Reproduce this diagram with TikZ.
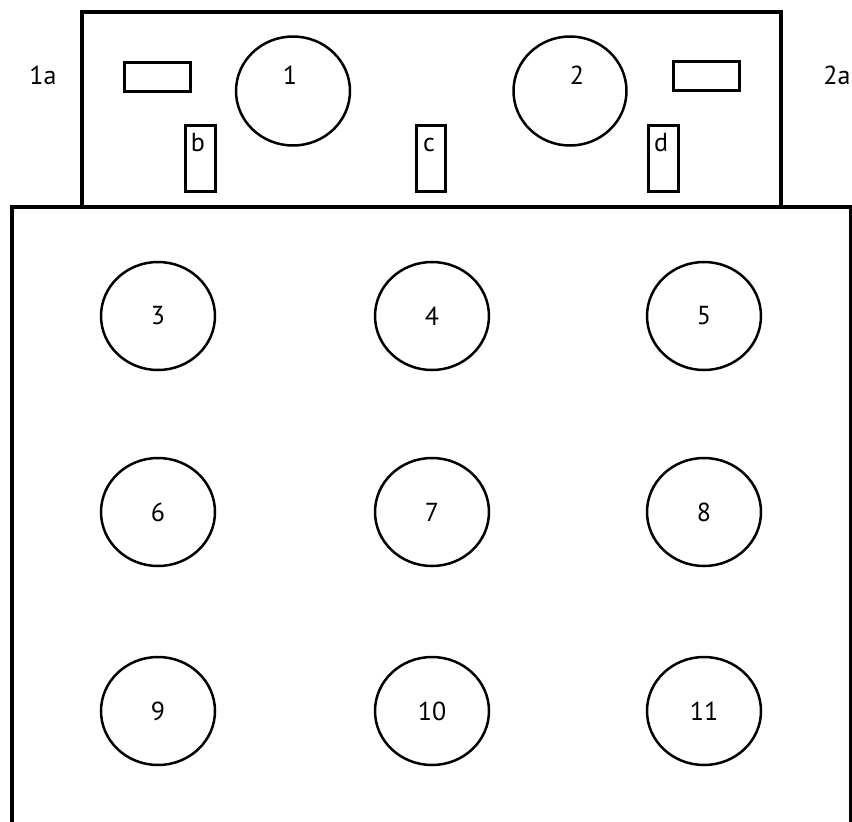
\documentclass[tikz,border=0pt]{standalone}
\usepackage{fontspec}
\setmainfont{PT Sans}
\usetikzlibrary{shapes.geometric}
\begin{document}
\begin{tikzpicture}[x=1pt,y=-1pt,
  wall/.style={line width=4pt},
  well/.style={draw,ellipse,line width=2.5pt,inner sep=0pt,minimum width=114pt,minimum height=108pt,font=\fontsize{26}{28}\selectfont},
  slot/.style={draw,rectangle,line width=3pt,inner sep=0pt},
  lbl/.style={inner sep=0pt,font=\fontsize{26}{28}\selectfont}]
\useasboundingbox (0,0) rectangle (852,822);
\clip (0,0) rectangle (852,822);
% top box
\draw[wall] (82,207) -- (82,12) -- (781,12) -- (781,207);
% main box
\draw[wall] (12,830) -- (12,207) -- (851,207) -- (851,830);
% top elements
\node[well,minimum height=109pt] (c1) at (293,91) {};
\node[well,minimum width=113pt,minimum height=109pt] (c2) at (570,91) {};
\node[lbl] (t1) at (290,75) {1};
\node[lbl] (t2) at (577,75) {2};
\node[slot,minimum width=66pt,minimum height=29pt] (r1) at (157,76.5) {};
\node[slot,minimum width=66pt,minimum height=29pt] (r2) at (706,75.5) {};
\node[slot,minimum width=30pt,minimum height=66pt] (sb) at (200,158) {};
\node[slot,minimum width=29pt,minimum height=66pt] (sc) at (430.5,158) {};
\node[slot,minimum width=30pt,minimum height=66pt] (sd) at (663,158) {};
\node[lbl] (lb) at (198,143) {b};
\node[lbl] (lc) at (429,145) {c};
\node[lbl] (ld) at (661,143) {d};
\node[lbl] (l1a) at (43,75) {1a};
\node[lbl] (l2a) at (837,75) {2a};
% wells
\node[well] (w3) at (158,316) {3};
\node[well] (w4) at (432,316) {4};
\node[well] (w5) at (704,316) {5};
\node[well] (w6) at (158,512) {6};
\node[well] (w7) at (432,512) {7};
\node[well] (w8) at (704,512) {8};
\node[well] (w9) at (158,711) {9};
\node[well] (w10) at (432,711) {10};
\node[well] (w11) at (704,711) {11};
\end{tikzpicture}
\end{document}
